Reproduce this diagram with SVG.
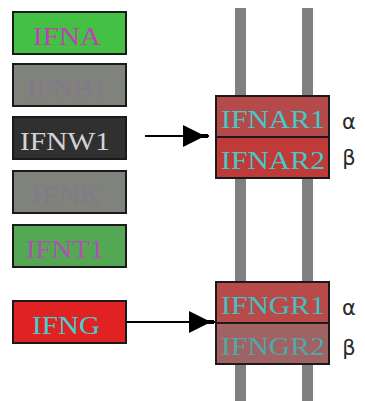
<svg xmlns="http://www.w3.org/2000/svg" width="365" height="401" viewBox="0 0 365 401">
  <defs>
    <style>
      .box { stroke: #1a1a1a; stroke-width: 2; }
      .lbl { font-family: "Liberation Serif", "DejaVu Serif", serif; font-size: 25px; text-anchor: middle; dominant-baseline: central; }
      .greek { font-family: "DejaVu Sans", "Liberation Sans", sans-serif; font-size: 21px; fill: #2a2a2a; text-anchor: middle; dominant-baseline: central; }
      .bar { fill: #808080; }
      .edge { stroke: #000; stroke-width: 2; fill: none; }
    </style>
    <marker id="head" viewBox="0 0 26 22" refX="26" refY="11" markerWidth="26" markerHeight="22" markerUnits="userSpaceOnUse" orient="auto">
      <path d="M0,0 L0,22 L18,13 L25,13 L25,9 L18,9 Z" fill="#000"/>
    </marker>
  </defs>

  <!-- membrane rails -->
  <g id="membrane">
    <rect class="bar" x="235" y="8" width="11" height="393"/>
    <rect class="bar" x="302" y="8" width="11" height="393"/>
  </g>

  <!-- ligands -->
  <g id="IFNA">
    <rect class="box" x="13" y="12" width="113" height="42" fill="#44c044"/>
    <text class="lbl" x="67" y="36" fill="#c040b8" textLength="68" lengthAdjust="spacingAndGlyphs">IFNA</text>
  </g>
  <g id="IFNB1">
    <rect class="box" x="13" y="64" width="113" height="42" fill="#7f837b"/>
    <text class="lbl" x="67" y="88" fill="#84788a" textLength="80" lengthAdjust="spacingAndGlyphs">IFNB1</text>
  </g>
  <g id="IFNW1">
    <rect class="box" x="13" y="117" width="113" height="42" fill="#303030"/>
    <text class="lbl" x="65" y="141" fill="#d4d4d4" textLength="90" lengthAdjust="spacingAndGlyphs">IFNW1</text>
  </g>
  <g id="IFNK">
    <rect class="box" x="13" y="171" width="113" height="42" fill="#7f837b"/>
    <text class="lbl" x="67" y="195" fill="#84788a" textLength="70" lengthAdjust="spacingAndGlyphs">IFNK</text>
  </g>
  <g id="IFNT1">
    <rect class="box" x="13" y="225" width="113" height="42" fill="#54a854"/>
    <text class="lbl" x="65" y="249" fill="#b050b0" textLength="78" lengthAdjust="spacingAndGlyphs">IFNT1</text>
  </g>
  <g id="IFNG">
    <rect class="box" x="13" y="301" width="113" height="42" fill="#e02222"/>
    <text class="lbl" x="66" y="325" fill="#40d0d0" textLength="68" lengthAdjust="spacingAndGlyphs">IFNG</text>
  </g>

  <!-- receptors -->
  <g id="IFNAR1">
    <rect class="box" x="216" y="96" width="113" height="41" fill="#b44a4a"/>
    <text class="lbl" x="273" y="119" fill="#44c8c8" textLength="104" lengthAdjust="spacingAndGlyphs">IFNAR1</text>
    <text class="greek" x="349" y="122">α</text>
  </g>
  <g id="IFNAR2">
    <rect class="box" x="216" y="137" width="113" height="41" fill="#c03a3a"/>
    <text class="lbl" x="273" y="160" fill="#44c8c8" textLength="104" lengthAdjust="spacingAndGlyphs">IFNAR2</text>
    <text class="greek" x="349" y="158">β</text>
  </g>
  <g id="IFNGR1">
    <rect class="box" x="216" y="282" width="113" height="41" fill="#b84a4a"/>
    <text class="lbl" x="273" y="305" fill="#44c0c0" textLength="104" lengthAdjust="spacingAndGlyphs">IFNGR1</text>
    <text class="greek" x="349" y="308">α</text>
  </g>
  <g id="IFNGR2">
    <rect class="box" x="216" y="323" width="113" height="41" fill="#a06262"/>
    <text class="lbl" x="273" y="346" fill="#50a8a8" textLength="104" lengthAdjust="spacingAndGlyphs">IFNGR2</text>
    <text class="greek" x="349" y="348">β</text>
  </g>

  <!-- connectors -->
  <g id="edges">
    <line class="edge" x1="145" y1="136" x2="209" y2="136" marker-end="url(#head)"/>
    <line class="edge" x1="126" y1="322" x2="215" y2="322" marker-end="url(#head)"/>
  </g>
</svg>
